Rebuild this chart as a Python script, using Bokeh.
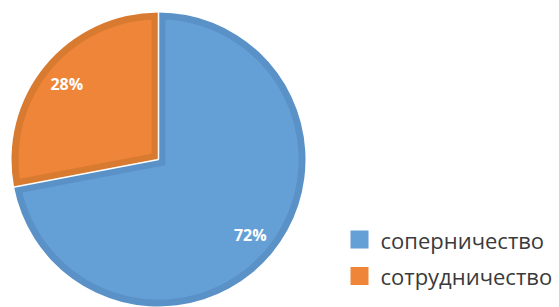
import numpy as np
from bokeh.plotting import figure
from bokeh.models import Range1d
from bokeh.core.properties import value
from bokeh.embed import file_html
from bokeh.resources import INLINE

categories = ["соперничество", "сотрудничество"]
shares = [72, 28]
labels = ["72%", "28%"]
fills = ["#64A0D6", "#EE8539"]
borders = ["#5A92C8", "#D97A31"]

W, H = 559, 307
p = figure(width=W, height=H, output_backend="svg", toolbar_location=None,
           x_range=Range1d(0, W), y_range=Range1d(0, H), min_border=0)
p.axis.visible = False
p.grid.visible = False
p.outline_line_color = None
p.background_fill_color = "white"

cx, cy, R, t = 158, 148, 147, 7
fr = np.array(shares) / sum(shares)
ends = np.pi / 2 - np.concatenate([[0], np.cumsum(fr)[:-1]]) * 2 * np.pi
starts = ends - fr * 2 * np.pi
mids = (starts + ends) / 2
half = (ends - starts) / 2
d = t / np.sin(half)

# outer (border colour)
p.wedge(x=[cx] * 2, y=[cy] * 2, radius=R, start_angle=list(starts), end_angle=list(ends),
        fill_color=borders, line_color=None)

# inner (fill colour) as inset polygon
xs, ys = [], []
ri = R - t
delta = np.arcsin(t / ri)
for s, e, m, dd in zip(starts, ends, mids, d):
    ax, ay = cx + dd * np.cos(m), cy + dd * np.sin(m)
    ang = np.linspace(s + delta, e - delta, 200)
    xs.append([ax] + list(cx + ri * np.cos(ang)))
    ys.append([ay] + list(cy + ri * np.sin(ang)))
p.patches(xs=xs, ys=ys, fill_color=fills, line_color=None)

# white gaps
p.segment(x0=[cx] * 2, y0=[cy] * 2, x1=list(cx + (R + 1) * np.cos(ends)),
          y1=list(cy + (R + 1) * np.sin(ends)), line_color="white", line_width=1.5)

# percentage labels
k = 0.81
p.text(x=list(cx + k * R * np.cos(mids)), y=list(cy + k * R * np.sin(mids)), text=labels,
       text_color="white", text_font=value("Open Sans"), text_font_style="bold",
       text_font_size="16px", text_align="center", text_baseline="middle")

# legend
ly = [68, 31.5]
p.rect(x=[359, 359], y=ly, width=18, height=18, fill_color=fills, line_color=None)
p.text(x=[380, 380], y=ly, text=categories, text_color="#3A3A3A",
       text_font=value("Open Sans"), text_font_size="22px", text_baseline="middle")

open("out.html", "w").write(file_html(p, INLINE))
